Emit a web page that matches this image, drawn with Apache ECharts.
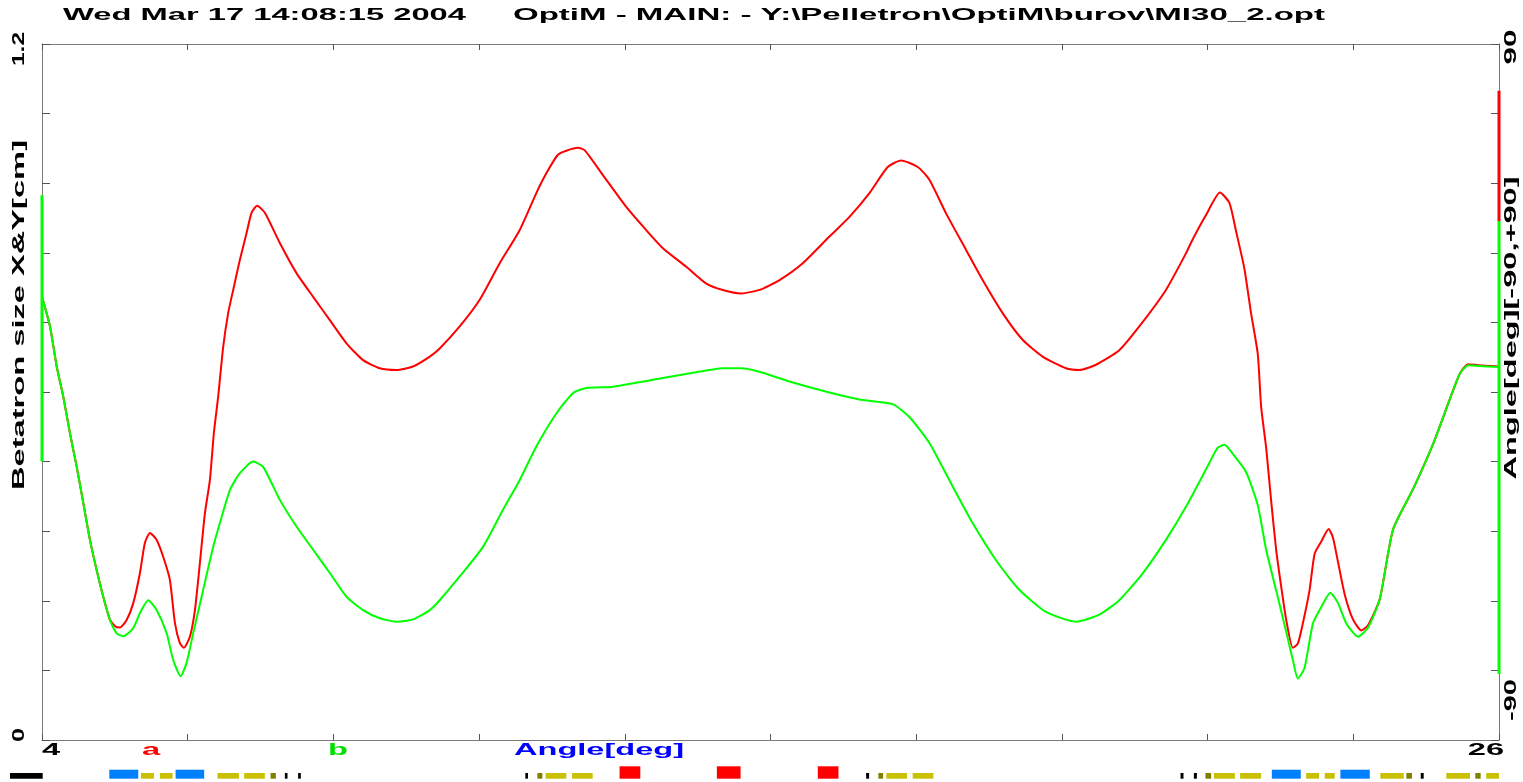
<!DOCTYPE html>
<html>
<head>
<meta charset="utf-8">
<script src="https://cdn.jsdelivr.net/npm/echarts@6/dist/echarts.min.js"></script>
<style>
html,body{margin:0;padding:0;background:#fff;}
#chart{width:1523px;height:782px;}
</style>
</head>
<body>
<div id="chart"></div>
<script>
// ---------- DATA ----------
const titleParts = ['Wed Mar 17 14:08:15 2004', 'OptiM - MAIN: - Y:\\Pelletron\\OptiM\\burov\\MI30_2.opt'];
const leftAxisName = 'Betatron size X&Y[cm]';
const rightAxisName = 'Angle[deg][-90,+90]';
const xAxisName = 'Angle[deg]';
const xTickLabels = ['4', '26'];
const yLeftTickLabels = ['0', '1.2'];
const yRightTickLabels = ['-90', '90'];
const legendLetters = ['a', 'b'];

const xRange = [4, 26];
const yLeftRange = [0, 1.2];
const yRightRange = [-90, 90];

// Horizontal beam size (red)
const xRed = [4.000,4.121,4.222,4.321,4.422,4.524,4.623,4.724,4.825,4.925,5.026,
  5.117,5.177,5.278,5.378,5.479,5.554,5.630,5.731,5.830,5.931,6.007,6.082,6.143,6.233,6.309,
  6.384,6.460,6.535,6.595,6.660,6.736,6.811,6.887,6.988,7.089,7.164,7.249,7.365,7.591,7.843,
  8.094,8.346,8.598,8.848,9.100,9.352,9.603,9.855,10.005,10.307,10.609,10.911,11.212,11.464,
  11.615,11.790,11.917,12.092,12.193,12.469,12.822,13.124,13.375,13.728,14.030,14.280,14.558,
  14.834,15.136,15.487,15.890,16.192,16.494,16.770,16.972,17.223,17.399,17.651,17.953,18.203,
  18.505,18.807,19.109,19.462,19.663,19.915,20.266,20.568,20.971,21.273,21.374,21.576,21.787,
  21.929,22.030,22.155,22.256,22.357,22.409,22.484,22.560,22.635,22.711,22.786,22.887,22.962,
  23.038,23.139,23.216,23.315,23.427,23.492,23.569,23.670,23.795,23.922,24.023,24.200,24.400,
  24.704,25.007,25.259,25.410,25.537,25.688,26.000];
const yRed = [0.764,0.713,0.644,0.592,0.529,0.471,0.409,0.345,0.293,0.247,0.207,
  0.195,0.194,0.207,0.236,0.288,0.340,0.357,0.345,0.316,0.276,0.202,0.167,0.159,0.178,0.224,
  0.305,0.391,0.448,0.529,0.592,0.678,0.736,0.776,0.828,0.874,0.909,0.921,0.909,0.857,0.805,
  0.764,0.724,0.684,0.655,0.641,0.638,0.644,0.661,0.675,0.713,0.759,0.822,0.879,0.943,
  0.977,1.009,1.016,1.021,1.017,0.974,0.919,0.879,0.848,0.816,0.787,0.776,0.770,
  0.776,0.793,0.822,0.868,0.902,0.943,0.988,0.999,0.988,0.966,0.908,0.845,0.793,
  0.736,0.690,0.661,0.641,0.638,0.647,0.672,0.713,0.776,0.839,0.863,0.905,0.944,
  0.926,0.877,0.813,0.736,0.666,0.574,0.504,0.412,0.328,0.265,0.208,0.159,0.166,
  0.201,0.258,0.321,0.342,0.364,0.349,0.307,0.251,0.208,0.189,0.198,0.243,0.363,
  0.433,0.511,0.588,0.632,0.648,0.646,0.644];

// Vertical beam size (green)
const xGreen = [4.000,4.121,4.222,4.321,4.422,4.524,4.623,4.724,4.825,4.925,
  5.026,5.127,5.227,5.378,5.479,5.604,5.731,5.882,5.981,6.093,
  6.183,6.283,6.434,6.585,6.686,6.837,6.988,7.188,7.339,7.591,
  7.843,8.094,8.346,8.598,8.848,9.100,9.352,9.603,9.855,10.005,
  10.307,10.659,10.961,11.212,11.464,11.766,12.017,12.219,12.620,13.224,
  13.827,14.280,14.558,14.834,15.287,15.890,16.343,16.845,17.097,17.399,
  17.751,18.052,18.405,18.757,19.160,19.613,19.964,20.266,20.618,20.971,
  21.273,21.624,21.752,21.853,22.004,22.181,22.357,22.484,22.635,22.786,
  22.887,22.962,23.063,23.190,23.315,23.453,23.569,23.694,23.871,24.023,
  24.200,24.400,24.704,25.007,25.259,25.410,25.537,25.688,26.000];
const yGreen = [0.764,0.713,0.644,0.592,0.529,0.471,0.409,0.345,0.293,0.247,
  0.207,0.184,0.179,0.193,0.219,0.241,0.224,0.184,0.138,0.110,
  0.133,0.184,0.259,0.333,0.374,0.431,0.460,0.480,0.471,0.414,
  0.368,0.328,0.288,0.247,0.224,0.210,0.204,0.208,0.224,0.241,
  0.282,0.333,0.397,0.448,0.506,0.563,0.598,0.607,0.609,0.621,
  0.633,0.641,0.641,0.635,0.618,0.599,0.587,0.579,0.557,0.512,
  0.437,0.374,0.310,0.259,0.221,0.204,0.216,0.241,0.287,0.345,
  0.402,0.477,0.504,0.509,0.490,0.462,0.405,0.328,0.258,0.187,
  0.138,0.106,0.124,0.201,0.229,0.254,0.236,0.201,0.178,0.194,
  0.243,0.363,0.433,0.511,0.588,0.632,0.646,0.645,0.643];

// Angle traces (right axis, degrees), seen only at the ends of the line
const angleGreenAtStart = [50.9, -18.0];
const angleRedAtEnd = [77.9, 44.2];
const angleGreenAtEnd = [44.2, -72.9];

// Lattice elements strip
const elemStart = [3.517,5.016,5.494,5.780,6.017,6.651,7.053,7.451,7.667,7.867,
  11.298,11.480,11.605,12.002,12.721,14.190,15.714,16.444,16.629,16.750,17.147,
  21.191,21.393,21.568,21.695,22.091,22.570,23.088,23.370,23.605,24.208,24.601,24.818,25.204,25.642,25.807];
const elemEnd = [4.011,5.453,5.690,5.972,6.449,6.973,7.365,7.531,7.707,7.908,
  11.338,11.555,11.917,12.315,13.034,14.548,16.026,16.489,16.700,17.062,17.459,
  21.236,21.438,21.654,22.012,22.408,23.007,23.284,23.520,24.049,24.562,24.687,24.863,25.562,25.723,25.999];
const elemType = ['M','Q','S','S','Q','S','S','C','M','M',
  'M','C','S','S','B','B','B','M','C','S','S',
  'M','M','C','S','S','Q','S','S','Q','S','C','M','S','C','S'];

// ---------- STYLE ----------
const RED = '#ff0000', GREEN = '#00ff00', AXIS = '#7a7a7a';
const elemStyle = {
  B: {color: '#ff0000', h: 12.4},
  Q: {color: '#0080ff', h: 9},
  S: {color: '#c8c000', h: 5.7},
  C: {color: '#808000', h: 5.7},
  M: {color: '#000000', h: 5.7}
};
const FAMILY = '"Liberation Sans", Arial, Helvetica, sans-serif';
const FS = 17;
const FONT = 'bold ' + FS + 'px ' + FAMILY;
const SX = 1.92;
const mctx = document.createElement('canvas').getContext('2d');
function fit(text, target) { mctx.font = FONT; return target / mctx.measureText(text).width; }

function txt(text, cx, cy, opts) {
  opts = opts || {};
  const s = opts.target ? fit(text, opts.target) : SX;
  return {
    type: 'text', x: cx, y: cy, rotation: opts.rot || 0, scaleX: s, scaleY: 1, z: 100,
    style: {text: text, font: FONT, fill: opts.color || '#000',
      align: 'center', verticalAlign: 'middle', textAlign: 'center', textVerticalAlign: 'middle'}
  };
}

const zip = (xs, ys) => xs.map((x, i) => [x, ys[i]]);
const ROT = Math.PI / 2;

const graphics = [
  txt(titleParts[0], 264.5, 15, {target: 403}),
  txt(titleParts[1], 919, 15, {target: 812}),
  txt(leftAxisName, 19, 315, {rot: ROT, target: 350}),
  txt(rightAxisName, 1511, 328, {rot: ROT, target: 303}),
  txt(yLeftTickLabels[1], 19, 49, {rot: ROT, target: 34}),
  txt(yLeftTickLabels[0], 19, 735, {rot: ROT, target: 14}),
  txt(yRightTickLabels[1], 1511, 47, {rot: ROT, target: 35}),
  txt(yRightTickLabels[0], 1511, 700, {rot: ROT, target: 42}),
  txt(xTickLabels[0], 51, 750),
  txt(legendLetters[0], 151, 750, {color: RED}),
  txt(legendLetters[1], 338, 750, {color: '#00e000'}),
  txt(xAxisName, 599, 750, {color: '#0000ff', target: 170}),
  txt(xTickLabels[1], 1486, 750)
];

const chart = echarts.init(document.getElementById('chart'), null, {renderer: 'canvas'});
const tickAxis = (pos) => ({
  type: 'value', gridIndex: 0, position: pos, min: 0, max: 10, interval: 1,
  axisLine: {show: true, onZero: false, lineStyle: {color: AXIS, width: 1}},
  axisTick: {show: true, inside: true, length: 6, lineStyle: {color: '#555'}},
  axisLabel: {show: false}, splitLine: {show: false}
});

chart.setOption({
  animation: false,
  backgroundColor: '#ffffff',
  grid: [
    {left: 42, right: 24, top: 44, bottom: 42},
    {left: 42, right: 24, top: 760, height: 18.7}
  ],
  xAxis: [
    {type: 'value', gridIndex: 0, min: xRange[0], max: xRange[1], show: false},
    tickAxis('bottom'),
    tickAxis('top'),
    {type: 'value', gridIndex: 1, min: xRange[0], max: xRange[1], show: false}
  ],
  yAxis: [
    {type: 'value', gridIndex: 0, position: 'left', min: yLeftRange[0], max: yLeftRange[1], interval: 0.12,
      axisLine: {show: true, onZero: false, lineStyle: {color: AXIS, width: 1}},
      axisTick: {show: true, inside: true, length: 8, lineStyle: {color: '#555'}},
      axisLabel: {show: false}, splitLine: {show: false}},
    {type: 'value', gridIndex: 0, position: 'right', min: yRightRange[0], max: yRightRange[1], interval: 18,
      axisLine: {show: true, onZero: false, lineStyle: {color: AXIS, width: 1}},
      axisTick: {show: true, inside: true, length: 8, lineStyle: {color: '#555'}},
      axisLabel: {show: false}, splitLine: {show: false}},
    {type: 'value', gridIndex: 1, min: 0, max: 1, show: false}
  ],
  series: [
    {type: 'line', xAxisIndex: 0, yAxisIndex: 0, data: zip(xRed, yRed), symbol: 'none', smooth: 0.2,
      lineStyle: {color: RED, width: 2}, z: 3},
    {type: 'line', xAxisIndex: 0, yAxisIndex: 0, data: zip(xGreen, yGreen), symbol: 'none', smooth: 0.2,
      lineStyle: {color: GREEN, width: 2}, z: 4},
    {type: 'line', xAxisIndex: 0, yAxisIndex: 1, clip: false, symbol: 'none',
      data: angleGreenAtStart.map(v => [xRange[0], v]), lineStyle: {color: GREEN, width: 3}, z: 5},
    {type: 'line', xAxisIndex: 0, yAxisIndex: 1, clip: false, symbol: 'none',
      data: angleRedAtEnd.map(v => [xRange[1], v]), lineStyle: {color: RED, width: 3}, z: 5},
    {type: 'line', xAxisIndex: 0, yAxisIndex: 1, clip: false, symbol: 'none',
      data: angleGreenAtEnd.map(v => [xRange[1], v]), lineStyle: {color: GREEN, width: 3}, z: 5},
    {type: 'custom', xAxisIndex: 3, yAxisIndex: 2, clip: false,
      data: elemStart.map((s, i) => [s, elemEnd[i], i]),
      encode: {x: [0, 1]},
      renderItem: function (params, api) {
        const a = api.coord([api.value(0), 0]);
        const b = api.coord([api.value(1), 0]);
        const st = elemStyle[elemType[api.value(2)]];
        return {type: 'rect', shape: {x: a[0], y: a[1] - st.h, width: Math.max(1, b[0] - a[0]), height: st.h},
          style: {fill: st.color}};
      }}
  ],
  graphic: graphics
});
</script>
</body>
</html>
